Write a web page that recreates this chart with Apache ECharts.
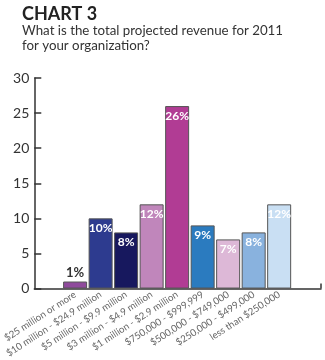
<!DOCTYPE html>
<html>
<head>
<meta charset="utf-8">
<script src="https://cdn.jsdelivr.net/npm/echarts@6/dist/echarts.min.js"></script>
<style>html,body{margin:0;padding:0;background:#fff}#c{width:325px;height:360px}</style>
</head>
<body>
<div id="c"></div>
<script>
const categories = ["$25 million or more","$10 million - $24.9 million","$5 million - $9.9 million","$3 million - $4.9 million","$1 million - $2.9 million","$750,000 - $999,999","$500,000 - $749,000","$250,000 - $499,000","less than $250,000"];
const values = [1, 10, 8, 12, 26, 9, 7, 8, 12];
const barColors = ["#8f4a9c","#2d3b8f","#17185e","#c086bb","#b13c94","#2b7bbf","#ddb8d7","#89b2de","#c9dff3"];
const yTicks = [0, 5, 10, 15, 20, 25, 30];

const chart = echarts.init(document.getElementById('c'));
const xMin = -1.6, xMax = 9.64;
chart.setOption({
  animation: false,
  title: {
    text: 'CHART 3',
    subtext: 'What is the total projected revenue for 2011\nfor your organization?',
    left: 17, top: 0, itemGap: 0,
    textStyle: {fontFamily: 'Lato', fontWeight: 'bold', fontSize: 18, color: '#222'},
    subtextStyle: {fontFamily: 'Lato', fontSize: 13.3, color: '#333', lineHeight: 15}
  },
  grid: {left: 23, right: 4, top: 78, bottom: 71},
  xAxis: {
    type: 'value', min: xMin, max: xMax,
    splitLine: {show: false},
    axisLine: {show: true, onZero: false, lineStyle: {color: '#333', width: 1.5}},
    axisTick: {show: true, inside: true, length: 5, customValues: [xMax], lineStyle: {color: '#333', width: 1.5}},
    axisLabel: {
      customValues: categories.map((c, i) => i),
      formatter: v => categories[Math.round(v)] || '',
      rotate: 33, fontSize: 9.7, color: '#666', fontFamily: 'Lato', margin: 5
    }
  },
  yAxis: {
    type: 'value', min: 0, max: 30, interval: 5,
    splitLine: {show: false},
    axisLine: {show: true, onZero: false, lineStyle: {color: '#333', width: 1.5}},
    axisTick: {show: true, inside: true, length: 7, lineStyle: {color: '#333', width: 1.5}},
    axisLabel: {fontSize: 14, color: '#333', fontFamily: 'Lato', margin: 5,
      formatter: v => yTicks.includes(v) ? String(v) : ''}
  },
  series: [{
    type: 'bar',
    barWidth: 24,
    data: values.map((v, i) => ({
      value: [i, v],
      itemStyle: {color: barColors[i]},
      label: i === 0 ? {position: 'top', color: '#333', distance: 2, fontSize: 13} : {}
    })),
    itemStyle: {borderColor: '#555', borderWidth: 1},
    label: {
      show: true, position: 'insideTop', distance: 4,
      formatter: p => p.value[1] + '%',
      color: '#fff', fontWeight: 'bold', fontSize: 12, fontFamily: 'Lato'
    }
  }]
});
</script>
</body>
</html>
